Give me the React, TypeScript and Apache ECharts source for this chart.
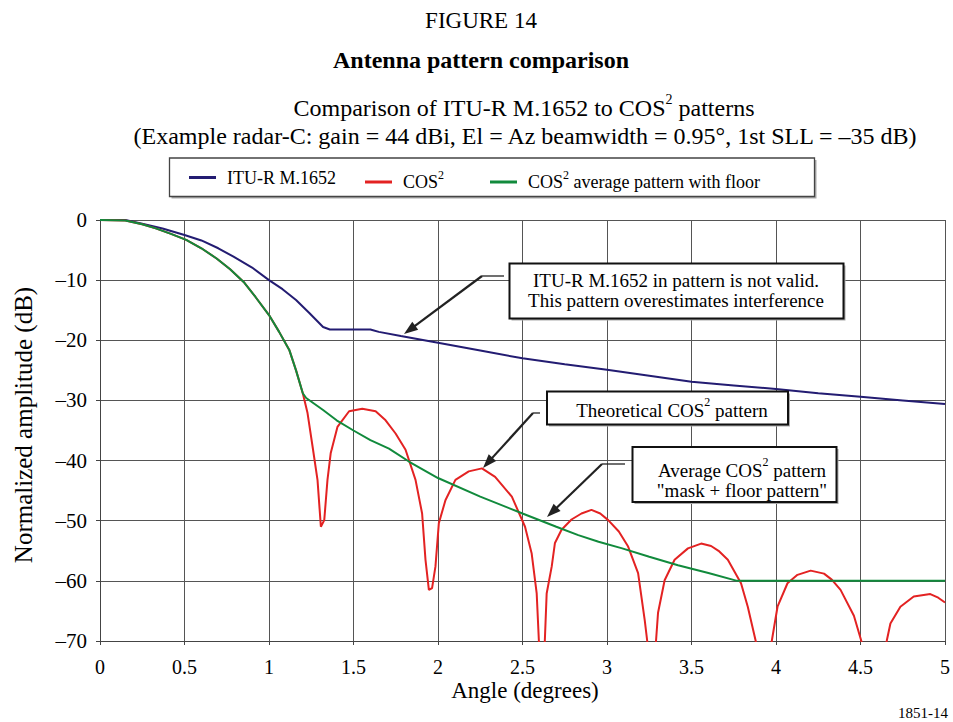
import React, { useEffect, useRef } from 'react';
import * as echarts from 'echarts';

// ---- Data (angle in degrees, normalized amplitude in dB) ----
const xTicks = [0, 0.5, 1, 1.5, 2, 2.5, 3, 3.5, 4, 4.5, 5];
const yTicks = [0, -10, -20, -30, -40, -50, -60, -70];

const ituPattern: [number, number][] = [
  [0, 0], [0.15, 0], [0.25, -0.6], [0.37, -1.4], [0.5, -2.5], [0.6, -3.4], [0.7, -4.7],
  [0.79, -6.1], [0.9, -7.9], [1.0, -10], [1.08, -11.5], [1.16, -13.3], [1.24, -15.5],
  [1.32, -17.8], [1.36, -18.2], [1.6, -18.2], [1.65, -18.6], [1.78, -19.3], [2.0, -20.4],
  [2.25, -21.7], [2.5, -23.0], [2.75, -24.0], [3.0, -24.9], [3.25, -25.9], [3.5, -26.9],
  [3.75, -27.5], [4.0, -28.1], [4.25, -28.8], [4.5, -29.4], [4.75, -30.0], [5.0, -30.6],
];

const cos2Pattern: [number, number][] = [
  [0, 0], [0.15, -0.1], [0.25, -0.7], [0.33, -1.4], [0.42, -2.3], [0.51, -3.3], [0.6, -4.7],
  [0.69, -6.4], [0.77, -8.2], [0.85, -10.3], [0.92, -12.8], [1.0, -15.8], [1.06, -18.6],
  [1.12, -21.6], [1.16, -25], [1.2, -28.8], [1.228, -32.1], [1.258, -37.7], [1.287, -43.2],
  [1.307, -51.0], [1.327, -49.9], [1.346, -43.2], [1.365, -38.8], [1.405, -34.4],
  [1.474, -31.8], [1.552, -31.4], [1.631, -31.8], [1.69, -33.3], [1.749, -35.5],
  [1.808, -38.2], [1.867, -43.2], [1.906, -48.8], [1.926, -56.5], [1.946, -61.5],
  [1.965, -61.2], [1.985, -57.6], [2.005, -50.4], [2.044, -46.6], [2.103, -43.2],
  [2.182, -41.8], [2.26, -41.3], [2.338, -42.7], [2.437, -46.0], [2.515, -51.0],
  [2.554, -55.4], [2.584, -62.1], [2.597, -70], [2.614, -78], [2.632, -70], [2.643, -62.1],
  [2.673, -57.6], [2.692, -53.7], [2.731, -51.5], [2.79, -49.8], [2.849, -48.8],
  [2.908, -48.2], [2.96, -48.8], [3.007, -49.9], [3.07, -51.8], [3.125, -54.3],
  [3.184, -58.7], [3.223, -66.5], [3.238, -70], [3.264, -78], [3.29, -70], [3.302, -65.3],
  [3.341, -59.9], [3.4, -56.5], [3.479, -54.6], [3.557, -53.8], [3.616, -54.2],
  [3.66, -55.0], [3.715, -56.5], [3.793, -60.4], [3.833, -64.3], [3.88, -70], [3.928, -78],
  [3.975, -70], [4.009, -64.3], [4.068, -60.4], [4.127, -59.0], [4.205, -58.3],
  [4.284, -58.8], [4.33, -59.8], [4.382, -61.5], [4.461, -65.8], [4.505, -70], [4.58, -78],
  [4.655, -70], [4.677, -67.1], [4.736, -64.3], [4.815, -62.6], [4.913, -62.2],
  [4.96, -62.8], [5.0, -63.6],
];

const avgPattern: [number, number][] = [
  [0, 0], [0.15, -0.1], [0.25, -0.7], [0.33, -1.4], [0.42, -2.3], [0.51, -3.3], [0.6, -4.7],
  [0.69, -6.4], [0.77, -8.2], [0.85, -10.3], [0.92, -12.8], [1.0, -15.8], [1.06, -18.6],
  [1.12, -21.6], [1.16, -25], [1.2, -28.8], [1.22, -29.6], [1.32, -31.6], [1.4, -33.3],
  [1.5, -35], [1.6, -36.6], [1.71, -38.0], [1.83, -40.2], [2.0, -42.9], [2.25, -46],
  [2.5, -48.8], [2.7, -51], [2.83, -52.4], [2.95, -53.5], [3.09, -54.6], [3.25, -56],
  [3.42, -57.4], [3.6, -58.7], [3.77, -60], [4.0, -60], [4.5, -60], [5, -60],
];

const seriesNames = ['ITU-R M.1652', 'COS2', 'COS2 average pattern with floor'];

const FONT = '"Liberation Serif", "Times New Roman", Times, serif';

function arrowHead(tx: number, ty: number, fx: number, fy: number, len = 14, w = 5) {
  const dx = tx - fx;
  const dy = ty - fy;
  const L = Math.hypot(dx, dy);
  const ux = dx / L;
  const uy = dy / L;
  const bx = tx - ux * len;
  const by = ty - uy * len;
  return {
    base: [bx + ux * 2, by + uy * 2],
    points: [[tx, ty], [bx - uy * w, by + ux * w], [bx + uy * w, by - ux * w]],
  };
}

function arrow(hx1: number, hx2: number, hy: number, tx: number, ty: number) {
  const h = arrowHead(tx, ty, hx2, hy);
  return [
    { type: 'polyline', z: 100, shape: { points: [[hx1, hy], [hx2, hy]] }, style: { stroke: '#222', lineWidth: 1.3, fill: null } },
    { type: 'polyline', z: 100, shape: { points: [[hx2, hy], h.base] }, style: { stroke: '#222', lineWidth: 2.2, fill: null } },
    { type: 'polygon', z: 100, shape: { points: h.points }, style: { fill: '#222' } },
  ];
}

function box(x: number, y: number, w: number, h: number, lw = 2, stroke = '#111', z = 100) {
  return [
    { type: 'rect', z: z - 1, shape: { x: x + 2, y: y + 2, width: w, height: h }, style: { fill: '#aaa' } },
    { type: 'rect', z, shape: { x, y, width: w, height: h }, style: { fill: '#fff', stroke, lineWidth: lw } },
  ];
}

function txt(x: number, y: number, text: string, size: number, opts: any = {}) {
  return {
    type: 'text',
    z: 101,
    x,
    y,
    rotation: opts.rotation || 0,
    style: {
      x: 0,
      y: 0,
      text,
      fill: '#000',
      font: `${opts.bold ? 'bold ' : ''}${size}px ${FONT}`,
      fontSize: size,
      fontFamily: FONT,
      fontWeight: opts.bold ? 'bold' : 'normal',
      align: opts.align || 'center',
      textAlign: opts.align || 'center',
      verticalAlign: 'middle',
      textVerticalAlign: 'middle',
      rich: opts.rich,
    },
  };
}

function supRich(size: number, supSize: number, lh: number) {
  return {
    t: { fontSize: size, fontFamily: FONT, fill: '#000', color: '#000', lineHeight: lh },
    s: { fontSize: supSize, fontFamily: FONT, fill: '#000', color: '#000', verticalAlign: 'top' },
  };
}

export default function App() {
  const ref = useRef<HTMLDivElement>(null);

  useEffect(() => {
    if (!ref.current) return;
    const chart = echarts.init(ref.current, undefined, { renderer: 'svg' });

    const legendCommon = {
      orient: 'horizontal',
      icon: 'rect',
      itemWidth: 27,
      itemHeight: 3,
      itemGap: 0,
      padding: 0,
      z: 50,
      selectedMode: false,
      formatter: (name: string) => {
        if (name === 'COS2') return '{t|COS}{s|2}';
        if (name === 'COS2 average pattern with floor') return '{t|COS}{s|2}{t| average pattern with floor}';
        return '{t|' + name + '}';
      },
      textStyle: {
        fontFamily: FONT,
        fontSize: 18,
        color: '#000',
        padding: [0, 0, 0, 6],
        rich: supRich(18, 12, 27),
      },
    };

    const option: any = {
      animation: false,
      backgroundColor: '#fff',
      textStyle: { fontFamily: FONT },
      grid: { left: 100, right: 5, top: 220, bottom: 81, containLabel: false },
      legend: [
        { ...legendCommon, data: [seriesNames[0]], left: 189, top: 168.5 },
        { ...legendCommon, data: [seriesNames[1]], left: 365, top: 168.5 },
        { ...legendCommon, data: [seriesNames[2]], left: 490, top: 168.5 },
      ],
      xAxis: {
        type: 'value',
        min: xTicks[0],
        max: xTicks[xTicks.length - 1],
        interval: 0.5,
        axisLine: { show: true, onZero: false, lineStyle: { color: '#444', width: 1 } },
        axisTick: { show: true, length: 4, lineStyle: { color: '#444' } },
        splitLine: { show: true, lineStyle: { color: '#555', width: 1 } },
        axisLabel: { fontFamily: FONT, fontSize: 20, color: '#000', margin: 16 },
      },
      yAxis: {
        type: 'value',
        min: yTicks[yTicks.length - 1],
        max: yTicks[0],
        interval: 10,
        axisLine: { show: true, lineStyle: { color: '#444', width: 1 } },
        axisTick: { show: true, length: 4, lineStyle: { color: '#444' } },
        splitLine: { show: true, lineStyle: { color: '#555', width: 1 } },
        axisLabel: {
          fontFamily: FONT,
          fontSize: 21,
          color: '#000',
          margin: 13,
          formatter: (v: number) => (v < 0 ? '\u2013' + Math.abs(v) : String(v)),
        },
      },
      series: [
        {
          name: seriesNames[0], type: 'line', data: ituPattern, showSymbol: false, symbol: 'none',
          lineStyle: { color: '#231c72', width: 2 }, itemStyle: { color: '#231c72' }, z: 2,
        },
        {
          name: seriesNames[1], type: 'line', data: cos2Pattern, showSymbol: false, symbol: 'none',
          lineStyle: { color: '#e32222', width: 2 }, itemStyle: { color: '#e32222' }, z: 3,
        },
        {
          name: seriesNames[2], type: 'line', data: avgPattern, showSymbol: false, symbol: 'none',
          lineStyle: { color: '#118a3c', width: 2 }, itemStyle: { color: '#118a3c' }, z: 4,
        },
      ],
      graphic: [
        txt(481, 20, 'FIGURE 14', 23),
        txt(481, 60, 'Antenna pattern comparison', 24, { bold: true }),
        txt(524, 108, '{t|Comparison of ITU-R M.1652 to COS}{s|2}{t| patterns}', 24, { rich: supRich(24, 14, 32) }),
        txt(525, 136, '(Example radar-C: gain = 44 dBi, El = Az beamwidth = 0.95\u00b0, 1st SLL = \u201335 dB)', 24),
        // legend frame (below the legend items)
        ...box(169.5, 158, 645, 38.5, 1.3, '#444', 2),
        // axis names
        txt(23, 425, 'Normalized amplitude (dB)', 25, { rotation: Math.PI / 2 }),
        txt(525, 690, 'Angle (degrees)', 23),
        txt(948, 713, '1851-14', 15, { align: 'right' }),
        // annotation 1
        ...box(509.5, 263.5, 334, 55),
        txt(676, 280, 'ITU-R M.1652 in pattern is not valid.', 19),
        txt(676, 300, 'This pattern overestimates interference', 19),
        ...arrow(504, 482, 276, 404, 334),
        // annotation 2
        ...box(547, 391.5, 241, 33),
        txt(672, 410, '{t|Theoretical COS}{s|2}{t| pattern}', 19, { rich: supRich(19, 12, 28) }),
        ...arrow(540, 533, 413, 483, 468),
        // annotation 3
        ...box(632.5, 447, 204, 55),
        txt(742, 470, '{t|Average COS}{s|2}{t| pattern}', 19, { rich: supRich(19, 12, 28) }),
        txt(742, 490, '"mask + floor pattern"', 19),
        ...arrow(625, 602, 464, 547, 517),
      ],
    };

    chart.setOption(option);
    return () => chart.dispose();
  }, []);

  return (
    <div
      ref={ref}
      style={{ position: 'fixed', left: 0, top: 0, width: 953, height: 722, background: '#fff' }}
    />
  );
}
